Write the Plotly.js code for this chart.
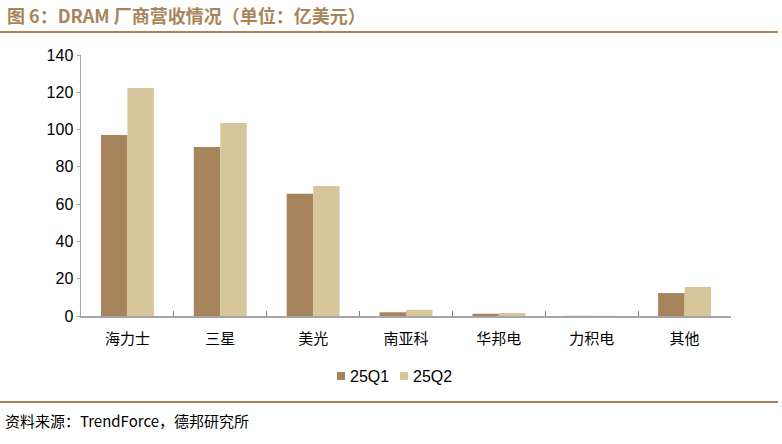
<!DOCTYPE html>
<html><head><meta charset="utf-8">
<script src="https://cdn.plot.ly/plotly-3.0.1.min.js"></script>
<style>body{margin:0;background:#fff}#c{width:782px;height:444px}</style>
</head><body><div id="c"></div>
<script>
const categories = ["海力士","三星","美光","南亚科","华邦电","力积电","其他"];
const q1 = [97.1, 90.7, 65.6, 2.0, 1.2, 0.1, 12.3];
const q2 = [122.3, 103.5, 69.7, 3.3, 1.6, 0.1, 15.6];
const seriesNames = ["25Q1","25Q2"];
const seriesColors = ['#a8845c','#d7c59b'];
const yTicks = [0,20,40,60,80,100,120,140];

const cjk = '"Noto Sans CJK SC", sans-serif';
const latin = '"Liberation Sans", Arial, sans-serif';

const data = [
  {type:'bar', x:categories, y:q1, name:seriesNames[0], marker:{color:seriesColors[0]}},
  {type:'bar', x:categories, y:q2, name:seriesNames[1], marker:{color:seriesColors[1]}}
];
const PW = 650, PH = 261, L = 81, B = 316;
const px = v => (v - L) / PW;
const py = v => (B - v) / PH;
const legendAnn = seriesNames.map((n,i)=>({
  xref:'paper', yref:'paper', x:px(348+i*63), xanchor:'left', y:py(376), yanchor:'middle',
  text:n, showarrow:false, font:{family:latin, size:16, color:'#000'}
}));
const legendSw = seriesNames.map((n,i)=>({
  type:'rect', xref:'paper', yref:'paper', x0:px(337+i*63), x1:px(345+i*63),
  y0:py(380), y1:py(372), fillcolor:seriesColors[i], line:{width:0}
}));
const layout = {
  width:782, height:444,
  margin:{l:81, r:51, t:55, b:128},
  paper_bgcolor:'#fff', plot_bgcolor:'#fff',
  barmode:'group', bargap:0.43, bargroupgap:0,
  font:{family:latin, color:'#000'},
  xaxis:{type:'category', showline:true, linecolor:'#a6a6a6', linewidth:1.5,
    ticks:'inside', tickson:'boundaries', ticklen:5, tickcolor:'#808080',
    ticklabelstandoff:8,
    tickfont:{family:cjk, size:15, color:'#000'}, showgrid:false, zeroline:false},
  yaxis:{range:[0,140], tickvals:yTicks, showline:true, linecolor:'#a6a6a6', linewidth:1.5,
    ticks:'outside', ticklen:3, tickcolor:'#a6a6a6', showgrid:false, zeroline:false,
    tickfont:{family:latin, size:16, color:'#000'}},
  showlegend:false,
  annotations:[
    {xref:'paper', yref:'paper', x:px(5), xanchor:'left', y:py(15), yanchor:'middle',
     text:'<b>图 6：DRAM 厂商营收情况（单位：亿美元）</b>', showarrow:false,
     font:{family:cjk, size:18, color:'#a9845a'}},
    {xref:'paper', yref:'paper', x:px(3), xanchor:'left', y:py(420), yanchor:'middle',
     text:'资料来源：TrendForce，德邦研究所', showarrow:false,
     font:{family:cjk, size:15, color:'#000'}}
  ].concat(legendAnn),
  shapes:[
    {type:'line', xref:'paper', yref:'paper', x0:px(0), x1:px(778),
     y0:py(32), y1:py(32), line:{color:'#a9845a', width:2}},
    {type:'line', xref:'paper', yref:'paper', x0:px(0), x1:px(778),
     y0:py(402), y1:py(402), line:{color:'#a9845a', width:2}}
  ].concat(legendSw)
};
Plotly.newPlot('c', data, layout, {displayModeBar:false, staticPlot:true});
</script></body></html>
